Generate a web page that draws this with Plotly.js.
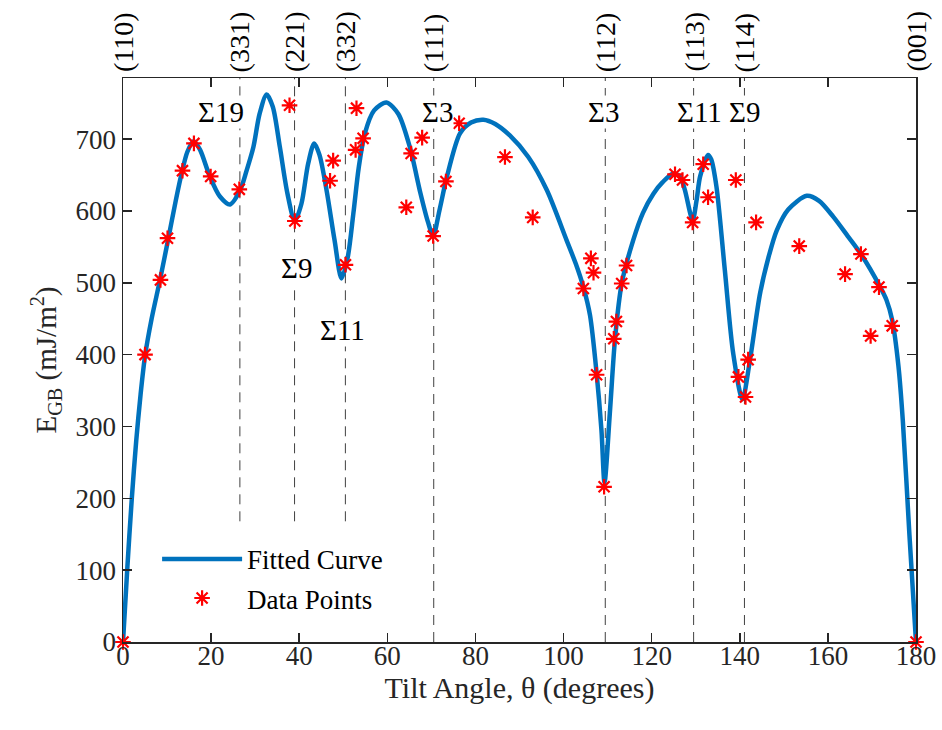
<!DOCTYPE html>
<html>
<head>
<meta charset="utf-8">
<script src="https://cdn.plot.ly/plotly-3.0.1.min.js"></script>
<style>html,body{margin:0;padding:0;background:#fff;}#chart{width:942px;height:730px;}</style>
</head>
<body>
<div id="chart"></div>
<script>
// Data points (tilt angle in degrees, GB energy in mJ/m^2)
const pointAngles = [0, 5.0, 8.5, 10.1, 13.5, 16.1, 19.9, 26.4, 37.8, 39.0, 47.0, 47.7, 50.5, 52.8, 53.0, 54.5, 64.3, 65.4, 67.9, 70.4, 73.3, 76.3, 86.7, 93.0, 104.5, 106.2, 106.8, 107.5, 109.2, 111.4, 112.0, 113.2, 114.3, 125.3, 127.0, 129.3, 131.7, 132.8, 139.1, 139.7, 141.3, 141.9, 143.7, 153.5, 163.9, 167.5, 169.7, 171.6, 174.6, 180];
const pointEnergies = [0, 400, 504, 562, 656, 694, 648, 630, 747, 586, 642, 670, 525, 685, 743, 701, 605, 680, 702, 565, 641, 722, 675, 591, 492, 534, 514, 372, 216, 422, 446, 499, 524, 651, 643, 584, 665, 619, 643, 369, 341, 393, 584, 551, 512, 540, 426, 494, 440, 0];

// Fitted curve
const curveAngles = [0, 1, 2, 3, 4, 5, 6.5, 8.4, 10.3, 12, 13.3, 14.6, 16, 17.5, 19.7, 22, 24.3, 26.6, 28, 29.6, 31, 32.6, 34, 35.6, 37.3, 39, 40.5, 42, 43.4, 44.6, 46.2, 48, 49.6, 51, 52.3, 53.5, 54.9, 57, 59.8, 62.5, 65.1, 67.5, 69.2, 70.4, 71.8, 73.5, 76.5, 79, 81.8, 84.5, 87.8, 92, 96.2, 100.7, 102.8, 104.5, 106, 107.5, 108.6, 109.3, 110.5, 111.7, 113.2, 115.8, 118, 120.4, 122.5, 124.9, 126.4, 127.5, 129.3, 130.2, 131, 132.8, 133.5, 134.7, 136.6, 138.5, 140.6, 142.3, 144.6, 146.5, 148.4, 151, 155.2, 158, 161.2, 164.5, 167.6, 171.8, 173.3, 174.6, 176, 177, 178.5, 180];
const curveEnergies = [0, 105, 200, 280, 345, 398, 450, 504, 562, 615, 652, 682, 697, 685, 648, 620, 609, 629, 655, 689, 735, 762, 745, 689, 625, 586, 610, 665, 694, 678, 629, 560, 506, 535, 597, 660, 708, 740, 751, 735, 689, 625, 585, 565, 600, 647, 708, 723, 727, 721, 705, 675, 629, 559, 526, 494, 455, 374, 295, 222, 318, 423, 499, 559, 597, 624, 640, 652, 648, 630, 587, 615, 648, 678, 672, 634, 518, 402, 338, 392, 485, 535, 573, 602, 621, 614, 592, 565, 539, 495, 476, 448, 385, 309, 150, 0];

// Top labels: plane normals at special tilt angles
const planeAngles = [0, 26.53, 38.94, 50.48, 70.53, 109.47, 129.52, 141.06, 180];
const planeLabels = ['(110)', '(331)', '(221)', '(332)', '(111)', '(112)', '(113)', '(114)', '(001)'];

// Dashed reference lines (angle, lower end energy)
const refAngles = [26.53, 38.94, 50.48, 70.53, 109.47, 129.52, 141.06];
const refBottoms = [168, 168, 168, 0, 0, 0, 0];

// Sigma labels
const sigmaLabels = ['Σ19', 'Σ9', 'Σ11', 'Σ3', 'Σ3', 'Σ11', 'Σ9'];
const sigmaAngles = [22.2, 39.3, 49.9, 71.3, 109.0, 130.9, 141.0];
const sigmaEnergies = [737, 520, 434, 737, 737, 737, 737];

const xTicks = [0, 20, 40, 60, 80, 100, 120, 140, 160, 180];
const yTicks = [0, 100, 200, 300, 400, 500, 600, 700];

const FONT = 'Liberation Serif, Times New Roman, serif';
const YMAX = 785;

const traces = [
  {
    x: curveAngles, y: curveEnergies, type: 'scatter', mode: 'lines',
    name: 'Fitted Curve', legendgroup: 'a',
    line: {color: '#0072BD', width: 4.5, shape: 'spline', smoothing: 0.8}
  },
  {
    x: pointAngles, y: pointEnergies, type: 'scatter', mode: 'markers',
    name: 'Data Points', legendgroup: 'b', cliponaxis: false,
    marker: {symbol: 'asterisk-open', size: 13, color: '#FF0000', line: {color: '#FF0000', width: 2.2}}
  }
];

const shapes = refAngles.map((a, i) => ({
  type: 'line', xref: 'x', yref: 'y', x0: a, x1: a, y0: refBottoms[i], y1: YMAX,
  line: {color: '#404040', width: 1, dash: '10px,7px'}, layer: 'below'
}));

const annotations = [];
planeAngles.forEach((a, i) => {
  annotations.push({
    x: a, y: 1, xref: 'x', yref: 'paper', text: planeLabels[i], showarrow: false,
    textangle: -90, xanchor: 'center', yanchor: 'bottom', yshift: 4,
    font: {family: FONT, size: 28, color: '#000'}
  });
});
sigmaLabels.forEach((s, i) => {
  annotations.push({
    x: sigmaAngles[i], y: sigmaEnergies[i], xref: 'x', yref: 'y', text: s, showarrow: false,
    xanchor: 'center', yanchor: 'middle', bgcolor: '#ffffff', borderpad: 0,
    font: {family: FONT, size: 29, color: '#000'}
  });
});

const layout = {
  width: 942, height: 730,
  margin: {l: 123, r: 26, t: 78, b: 88},
  paper_bgcolor: '#fff', plot_bgcolor: '#fff',
  font: {family: FONT, size: 27, color: '#262626'},
  showlegend: true,
  legend: {
    x: 0.043, y: 0.19, xanchor: 'left', yanchor: 'top',
    bgcolor: 'rgba(0,0,0,0)', borderwidth: 0,
    font: {family: FONT, size: 27, color: '#000'},
    itemwidth: 80, traceorder: 'grouped', tracegroupgap: 1
  },
  xaxis: {
    range: [0, 180], tickvals: xTicks, ticktext: xTicks.map(String),
    ticks: 'inside', ticklen: 9, tickwidth: 1.5, tickcolor: '#262626',
    showline: true, linecolor: '#262626', linewidth: 1.5, mirror: 'ticks',
    showgrid: false, zeroline: false, ticklabelstandoff: -11,
    tickfont: {family: FONT, size: 27, color: '#262626'},
    title: {text: 'Tilt Angle, θ (degrees)', font: {family: FONT, size: 30, color: '#262626'}, standoff: 0}
  },
  yaxis: {
    range: [0, YMAX], tickvals: yTicks, ticktext: yTicks.map(String),
    ticks: 'inside', ticklen: 9, tickwidth: 1.5, tickcolor: '#262626',
    showline: true, linecolor: '#262626', linewidth: 1.5, mirror: 'ticks',
    showgrid: false, zeroline: false,
    tickfont: {family: FONT, size: 27, color: '#262626'},
    title: {text: 'E<sub>GB</sub> (mJ/m<sup>2</sup>)', font: {family: FONT, size: 29, color: '#262626'}, standoff: 10}
  },
  shapes: shapes,
  annotations: annotations
};

Plotly.newPlot('chart', traces, layout, {displayModeBar: false, staticPlot: true});
</script>
</body>
</html>
